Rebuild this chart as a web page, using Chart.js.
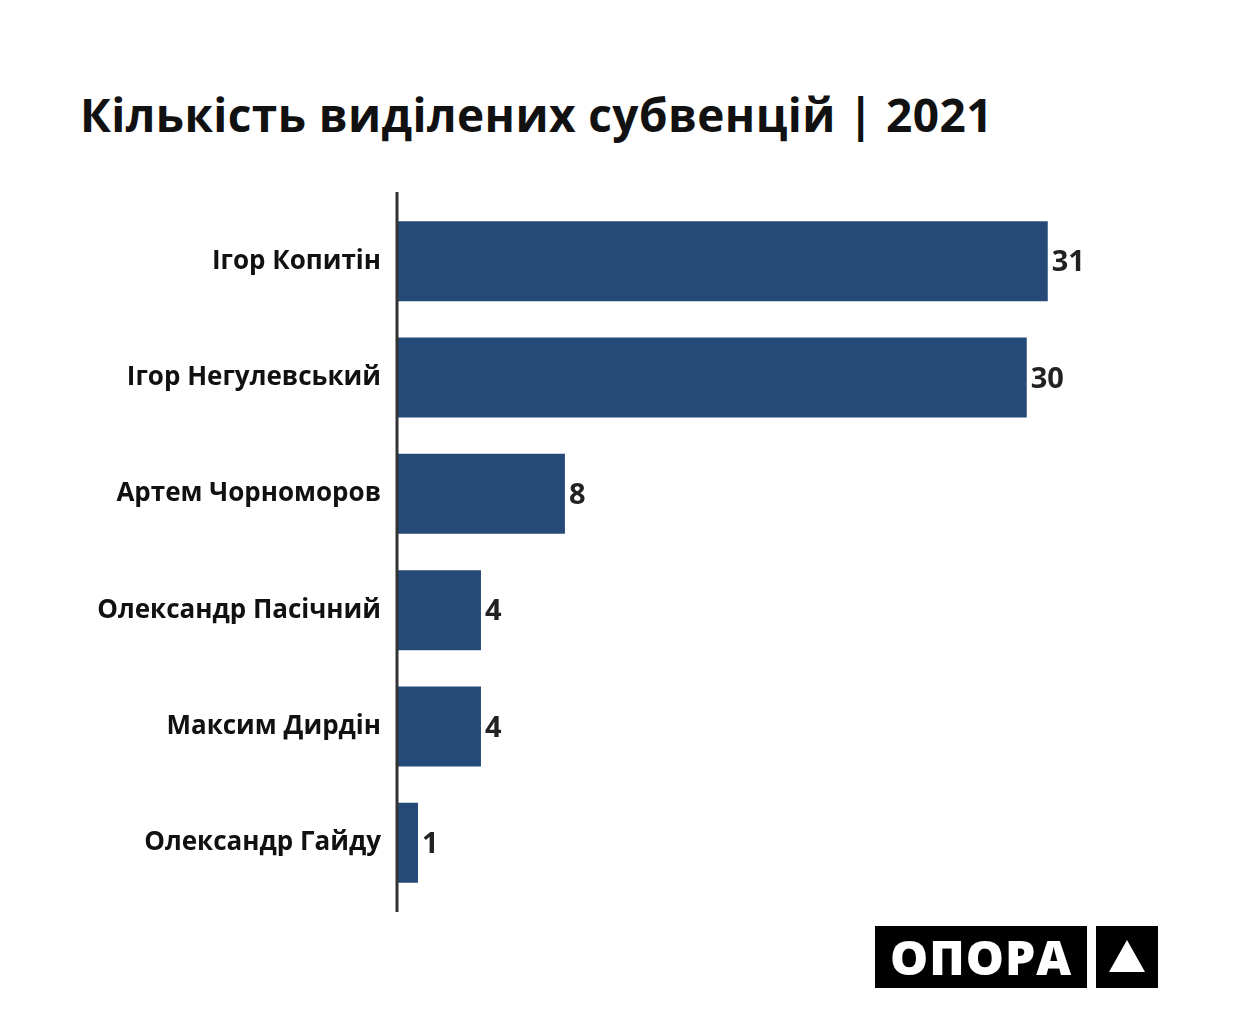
<!DOCTYPE html>
<html><head><meta charset="utf-8">
<script src="https://cdn.jsdelivr.net/npm/chart.js@4"></script>
<style>
body{margin:0;background:#fff;font-family:"Open Sans",sans-serif}
#wrap{position:relative;width:1250px;height:1022px}
canvas{position:absolute;left:0;top:0}
h1{position:absolute;left:80px;top:83px;margin:0;font-size:46px;font-weight:700;color:#111;letter-spacing:0.4px}
.logo{position:absolute;top:926px;height:62px;background:#000;color:#fff;font-weight:800;font-size:48px;line-height:62px;text-align:center}
</style></head><body>
<div id="wrap">
<h1>Кількість виділених субвенцій | 2021</h1>
<canvas id="chart" width="1250" height="1022"></canvas>
<div class="logo" style="left:875px;width:212px;letter-spacing:1px">ОПОРА</div>
<div class="logo" style="left:1096px;width:62px"><svg width="62" height="62"><polygon points="31,14 49,46 13,46" fill="#fff"/></svg></div>
</div>
<script>
const names = ["Ігор Копитін", "Ігор Негулевський", "Артем Чорноморов", "Олександр Пасічний", "Максим Дирдін", "Олександр Гайду"];
const counts = [31, 30, 8, 4, 4, 1];

const ctx = document.getElementById("chart");

// вертикальна вісь і підписи значень
const extras = {
  id: "extras",
  afterDatasetsDraw(chart) {
    const c = chart.ctx;
    const left = chart.chartArea.left;
    c.save();
    c.strokeStyle = "#333";
    c.lineWidth = 3;
    c.beginPath();
    c.moveTo(left, 192);
    c.lineTo(left, 912);
    c.stroke();
    c.fillStyle = "#222";
    c.font = "bold 29px 'Open Sans'";
    c.textBaseline = "middle";
    chart.getDatasetMeta(0).data.forEach((bar, i) => {
      c.fillText(counts[i], bar.x + 4, bar.y + 2);
    });
    c.restore();
  },
};

new Chart(ctx, {
  type: "bar",
  data: {
    labels: names,
    datasets: [{ data: counts, backgroundColor: "#254a78", barPercentage: 1, categoryPercentage: 0.687 }],
  },
  options: {
    indexAxis: "y",
    responsive: false,
    animation: false,
    layout: { padding: { top: 203, bottom: 121, right: 70, left: 0 } },
    scales: {
      x: { display: false, min: 0, max: 37.3 },
      y: {
        grid: { display: false },
        border: { display: false },
        ticks: { color: "#111", padding: 8, font: { family: "Open Sans", weight: "bold", size: 26 } },
        afterFit: (s) => { s.width = 397; },
      },
    },
    plugins: { legend: { display: false }, tooltip: { enabled: false } },
  },
  plugins: [extras],
});
</script>
</body></html>
